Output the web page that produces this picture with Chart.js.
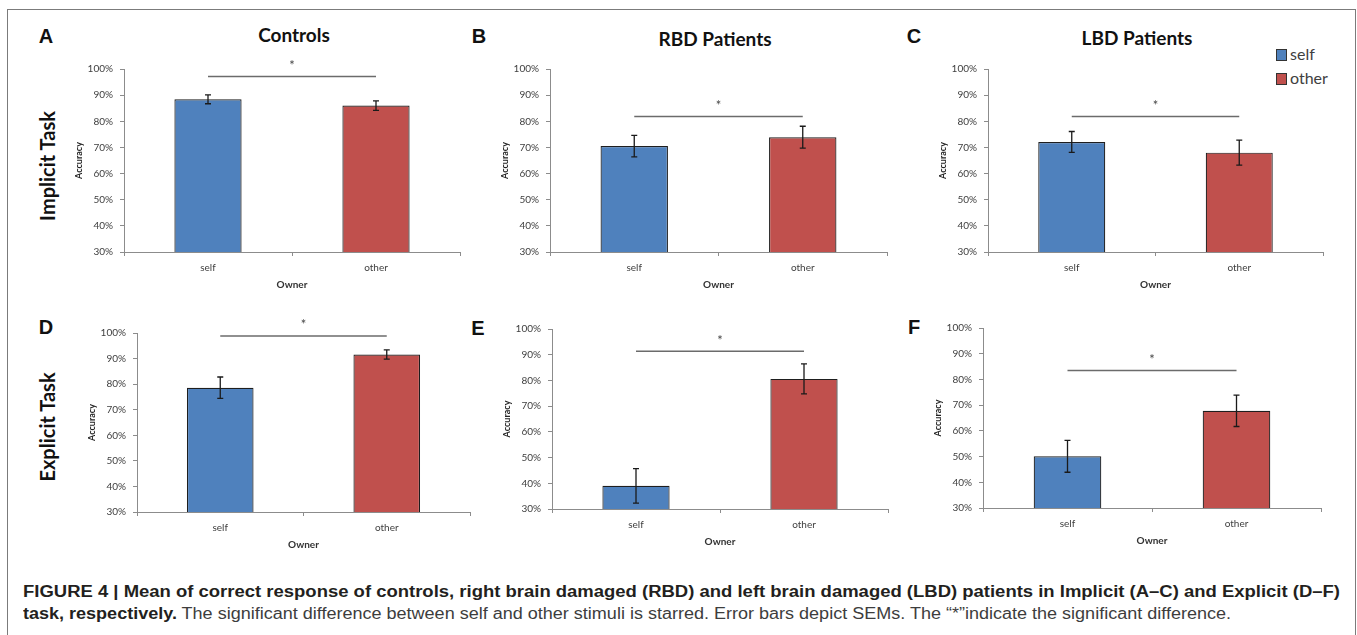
<!DOCTYPE html>
<html>
<head>
    <title>Figure 4 - Self/other accuracy</title>
    <script src="https://cdn.jsdelivr.net/npm/chart.js"></script>
    <style>
        body { margin: 0; background: #fff; font-family: Lato, Arial, sans-serif; }
        #page { position: relative; width: 1357px; height: 635px; overflow: hidden; }
        #frame { position: absolute; left: 7px; top: 9px; width: 1347px; height: 700px;
                 border: 1.5px solid #7b7b7b; }
        canvas { position: absolute; }
        .txt { position: absolute; white-space: nowrap; transform: translate(-50%, -50%); }
        .letter { font-family: "Liberation Sans", Arial, sans-serif; font-weight: bold; font-size: 20px; color: #111; }
        .title { font-weight: bold; font-size: 19px; color: #111; }
        .row { font-weight: bold; font-size: 20px; color: #111; transform: translate(-50%, -50%) rotate(-90deg); }
        .legend { position: absolute; left: 1276px; font-size: 16px; color: #404040; line-height: 16px; }
        .legend span.box { display: inline-block; width: 9px; height: 10px; border: 1px solid #333;
                           margin-right: 3px; vertical-align: -1px; }
        .cap { position: absolute; left: 23px; white-space: nowrap; font-family: "Liberation Sans", Arial, sans-serif;
               font-size: 16px; color: #231f20; transform-origin: 0 0; }
        .cap .n { font-weight: normal; color: #3d3d3d; }
    </style>
</head>
<body>
<div id="page">
    <div id="frame"></div>

    <div class="txt letter" style="left:46px; top:36px;">A</div>
    <div class="txt letter" style="left:479px; top:36px;">B</div>
    <div class="txt letter" style="left:914px; top:36px;">C</div>
    <div class="txt letter" style="left:46px; top:327px;">D</div>
    <div class="txt letter" style="left:478px; top:328px;">E</div>
    <div class="txt letter" style="left:914px; top:327px;">F</div>

    <div class="txt title" style="left:294px; top:34px;">Controls</div>
    <div class="txt title" style="left:715px; top:38px;">RBD Patients</div>
    <div class="txt title" style="left:1137px; top:37px;">LBD Patients</div>

    <div class="txt row" style="left:47px; top:166px;">Implicit Task</div>
    <div class="txt row" style="left:47px; top:427px;">Explicit Task</div>

    <div class="legend" style="top:46px;"><span class="box" style="background:#4F81BD"></span>self</div>
    <div class="legend" style="top:70px;"><span class="box" style="background:#C0504D"></span>other</div>

    <div class="cap" id="cap1" style="top:583px;"><b>FIGURE 4 | Mean of correct response of controls, right brain damaged (RBD) and left brain damaged (LBD) patients in Implicit (A–C) and Explicit (D–F)</b></div>
    <div class="cap" id="cap2" style="top:605px;"><b>task, respectively.</b><span class="n"> The significant difference between self and other stimuli is starred. Error bars depict SEMs. The “*”indicate the significant difference.</span></div>
</div>

<script>
    // data (percent correct)
    const owners = ['self', 'other'];

    const controlsImplicit = [88.4, 86.0];
    const controlsImplicitSem = [1.7, 1.8];
    const rbdImplicit = [70.5, 73.9];
    const rbdImplicitSem = [4.1, 4.2];
    const lbdImplicit = [72.1, 68.0];
    const lbdImplicitSem = [4.0, 4.8];

    const controlsExplicit = [78.6, 91.6];
    const controlsExplicitSem = [4.2, 1.8];
    const rbdExplicit = [39.0, 80.6];
    const rbdExplicitSem = [6.7, 5.8];
    const lbdExplicit = [50.1, 67.8];
    const lbdExplicitSem = [6.2, 6.1];

    // height of the "*" bracket line in each panel, A..F
    const sigLevel = [97.1, 81.8, 81.8, 98.8, 91.3, 83.5];

    const yTicks = [30, 40, 50, 60, 70, 80, 90, 100];

    const COLORS = ['#4F81BD', '#C0504D'];
    const AXIS_W = 55, AXIS_H = 45, PAD_TOP = 25, PAD_R = 5;

    // error bars + significance line
    const errBars = {
        id: 'errbars',
        afterDatasetsDraw(chart, args, opts) {
            const ctx = chart.ctx;
            const y = chart.scales.y;
            const meta = chart.getDatasetMeta(0);
            const vals = chart.data.datasets[0].data;
            ctx.save();
            ctx.strokeStyle = '#1a1a1a';
            ctx.lineWidth = 1.3;
            meta.data.forEach((bar, i) => {
                const top = y.getPixelForValue(vals[i] + opts.sem[i]);
                const bot = y.getPixelForValue(vals[i] - opts.sem[i]);
                ctx.beginPath();
                ctx.moveTo(bar.x, top); ctx.lineTo(bar.x, bot);
                ctx.moveTo(bar.x - 3, top); ctx.lineTo(bar.x + 3, top);
                ctx.moveTo(bar.x - 3, bot); ctx.lineTo(bar.x + 3, bot);
                ctx.stroke();
            });
            const ly = y.getPixelForValue(opts.sig);
            const x0 = meta.data[0].x, x1 = meta.data[1].x;
            ctx.strokeStyle = '#6b6b6b';
            ctx.lineWidth = 1.5;
            ctx.beginPath();
            ctx.moveTo(x0, ly); ctx.lineTo(x1, ly);
            ctx.stroke();
            ctx.fillStyle = '#444';
            ctx.font = '13px Lato';
            ctx.textAlign = 'center';
            ctx.textBaseline = 'middle';
            ctx.fillText('*', (x0 + x1) / 2, ly - 11);
            ctx.restore();
        }
    };

    function makePanel(box, means, sems, sig) {
        const cv = document.createElement('canvas');
        const w = box[2] - box[0] + AXIS_W + PAD_R;
        const h = box[3] - box[1] + PAD_TOP + AXIS_H;
        cv.width = w; cv.height = h;
        cv.style.left = (box[0] - AXIS_W) + 'px';
        cv.style.top = (box[1] - PAD_TOP) + 'px';
        cv.style.width = w + 'px'; cv.style.height = h + 'px';
        document.getElementById('page').appendChild(cv);

        const tickFont = { family: 'Lato', size: 10 };
        const axisCol = '#8c8c8c';

        new Chart(cv.getContext('2d'), {
            type: 'bar',
            data: {
                labels: owners,
                datasets: [{
                    label: 'Accuracy',
                    data: means,
                    backgroundColor: COLORS,
                    borderColor: '#1e1e1e',
                    borderWidth: 1.2,
                    categoryPercentage: 1,
                    barPercentage: 0.4
                }]
            },
            options: {
                responsive: false,
                animation: false,
                devicePixelRatio: 1,
                layout: { padding: { top: PAD_TOP, right: PAD_R, left: 0, bottom: 0 } },
                plugins: {
                    legend: { display: false },
                    tooltip: { enabled: false },
                    errbars: { sem: sems, sig: sig }
                },
                scales: {
                    x: {
                        grid: { drawOnChartArea: false, tickLength: 4, color: axisCol, offset: true },
                        border: { color: axisCol, width: 1 },
                        ticks: { font: tickFont, color: '#404040', padding: 6 },
                        title: { display: true, text: 'Owner', color: '#333',
                                 font: { family: 'Lato', size: 10, weight: 'bold' },
                                 padding: { top: 0, bottom: 6 } },
                        afterFit: s => { s.height = AXIS_H; }
                    },
                    y: {
                        min: yTicks[0],
                        max: yTicks[yTicks.length - 1],
                        afterBuildTicks: s => { s.ticks = yTicks.map(v => ({ value: v })); },
                        ticks: { font: tickFont, color: '#404040', padding: 7, callback: v => v + '%' },
                        grid: { drawOnChartArea: false, tickLength: 4, color: axisCol },
                        border: { color: axisCol, width: 1 },
                        title: { display: true, text: 'Accuracy', color: '#222',
                                 font: { family: 'Lato', size: 9, weight: 'bold' },
                                 padding: { top: 5, bottom: 0 } },
                        afterFit: s => { s.width = AXIS_W; }
                    }
                }
            },
            plugins: [errBars]
        });
    }

    function fitCaption(id, target) {
        const el = document.getElementById(id);
        el.style.transform = 'none';
        const wNat = el.getBoundingClientRect().width;
        el.style.transform = 'scaleX(' + (target / wNat) + ')';
    }

    function draw() {
        // chart-area boxes [left, top, right, bottom] for A..F
        makePanel([124, 69, 460, 252], controlsImplicit, controlsImplicitSem, sigLevel[0]);
        makePanel([550, 69, 887, 252], rbdImplicit, rbdImplicitSem, sigLevel[1]);
        makePanel([988, 69, 1323, 252], lbdImplicit, lbdImplicitSem, sigLevel[2]);
        makePanel([137, 333, 470, 512], controlsExplicit, controlsExplicitSem, sigLevel[3]);
        makePanel([552, 329, 888, 509], rbdExplicit, rbdExplicitSem, sigLevel[4]);
        makePanel([983, 328, 1321, 508], lbdExplicit, lbdExplicitSem, sigLevel[5]);

        fitCaption('cap1', 1317);
        fitCaption('cap2', 1208);
    }

    if (document.fonts && document.fonts.ready) {
        document.fonts.load('10px Lato').then(() => document.fonts.ready).then(draw);
    } else {
        draw();
    }
</script>
</body>
</html>
